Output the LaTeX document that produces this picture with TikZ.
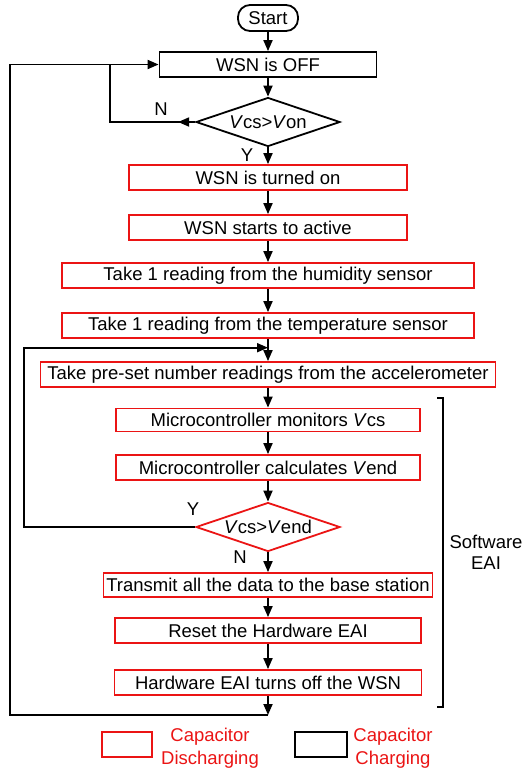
\documentclass[tikz,border=0pt]{standalone}
\usepackage{fontspec}
\setmainfont{Liberation Sans}
\usetikzlibrary{shapes.geometric,arrows.meta}
\definecolor{boxred}{RGB}{235,20,20}
\begin{document}
\begin{tikzpicture}[x=1pt,y=-1pt,
  font=\fontsize{18.5}{22}\selectfont,
  line width=1.8pt,
  arr/.style={-{Triangle[length=11pt,width=9pt]}},
  chg/.style={draw=black,rectangle,minimum height=25pt,inner sep=0pt,fill=white},
  dis/.style={draw=boxred,rectangle,minimum height=25pt,inner sep=0pt,fill=white},
  dec/.style={diamond,aspect=3,inner sep=0pt,minimum width=144pt,minimum height=49pt,fill=white},
  lbl/.style={inner sep=0pt}]
\fill[white] (0,0) rectangle (525,777);
\useasboundingbox (0,0) rectangle (525,777);

% main column
\node[draw,rectangle,rounded corners=12pt,minimum width=60pt,minimum height=26pt,inner sep=0pt] (start) at (268,18) {Start};
\node[chg,minimum width=217pt] (off) at (268,64.5) {WSN is OFF};
\node[dec,draw=black] (d1) at (268,122) {\textit{V}cs>\textit{V}on};
\node[dis,minimum width=278pt] (on) at (268,177.5) {WSN is turned on};
\node[dis,minimum width=278pt] (act) at (268,227.5) {WSN starts to active};
\node[dis,minimum width=412pt] (hum) at (268,275.5) {Take 1 reading from the humidity sensor};
\node[dis,minimum width=412pt] (temp) at (268,325.5) {Take 1 reading from the temperature sensor};
\node[dis,minimum width=455pt] (pre) at (268,374.5) {Take pre-set number readings from the accelerometer};
\node[dis,minimum width=304pt,minimum height=23pt] (mon) at (268,420) {Microcontroller monitors \textit{V}cs};
\node[dis,minimum width=304pt] (calc) at (268,467.5) {Microcontroller calculates \textit{V}end};
\node[dec,draw=boxred] (d2) at (268,527) {\textit{V}cs>\textit{V}end};
\node[dis,minimum width=329pt,minimum height=24pt] (tx) at (268,585) {Transmit all the data to the base station};
\node[dis,minimum width=306pt] (rst) at (268,630.5) {Reset the Hardware EAI};
\node[dis,minimum width=307pt] (hw) at (268,682.5) {Hardware EAI turns off the WSN};

% straight flow
\draw[arr] (start) -- (off);
\draw[arr] (off) -- (d1);
\draw[arr] (d1) -- (on);
\draw[arr] (on) -- (act);
\draw[arr] (act) -- (hum);
\draw[arr] (hum) -- (temp);
\draw[arr] (temp) -- (pre);
\draw[arr] (pre) -- (mon);
\draw[arr] (mon) -- (calc);
\draw[arr] (calc) -- (d2);
\draw[arr] (d2) -- (tx);
\draw[arr] (tx) -- (rst);
\draw[arr] (rst) -- (hw);

% outer loop back to WSN is OFF
\coordinate (bend) at (268,715);
\coordinate (outer) at (10,715);
\draw[arr] (hw) -- (bend);
\draw[arr] (bend) -- (outer) |- (off.west);

% "No" branch of the first decision
\coordinate (nbend) at (110,122);
\draw (d1.west) -- (nbend) -- (nbend |- off.west);
\draw[arr] (d1.west) -- ++(-17,0);

% "Yes" branch of the second decision
\coordinate (ycorner) at (24,347.7);
\coordinate (merge) at (268,347.7);
\draw[arr] (d2.west) -| (ycorner) -- (merge);

% branch labels
\node[lbl] (n1) at (161,109) {N};
\node[lbl] (y1) at (247,155) {Y};
\node[lbl] (y2) at (193,509) {Y};
\node[lbl] (n2) at (240,557) {N};

% software EAI bracket
\draw (437,398) -- (443,398) -- (443,707) -- (437,707);
\node[align=center,inner sep=0pt,font=\fontsize{18.5}{21}\selectfont] (sw) at (486,552) {Software\\EAI};

% legend
\node[draw=boxred,rectangle,minimum width=50pt,minimum height=25pt,inner sep=0pt] (legd) at (127,744.5) {};
\node[align=center,inner sep=0pt,text=boxred,font=\fontsize{18.5}{23}\selectfont] (legdt) at (210,748.5) {Capacitor\\Discharging};
\node[draw=black,rectangle,minimum width=52pt,minimum height=25pt,inner sep=0pt] (legc) at (321,744.5) {};
\node[align=center,inner sep=0pt,text=boxred,font=\fontsize{18.5}{23}\selectfont] (legct) at (393,748.5) {Capacitor\\Charging};
\end{tikzpicture}
\end{document}
